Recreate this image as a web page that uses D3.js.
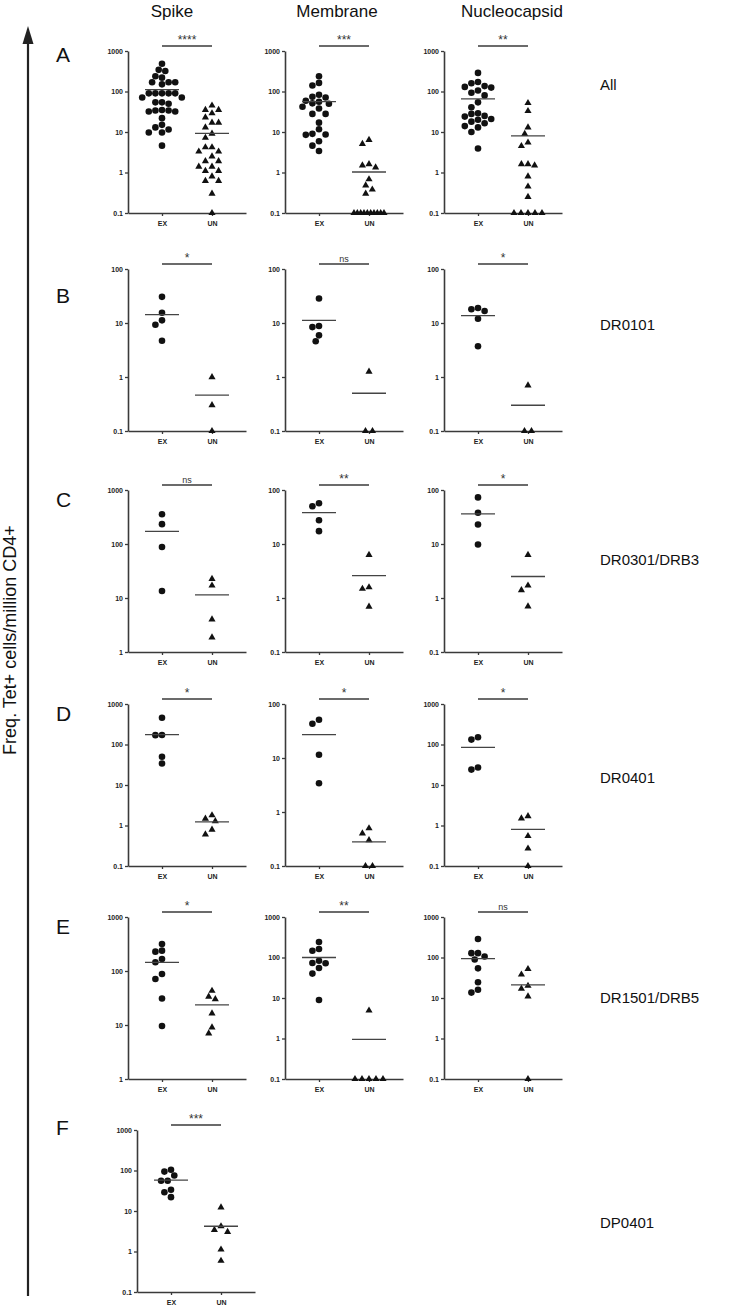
<!DOCTYPE html>
<html><head><meta charset="utf-8">
<script src="https://cdn.jsdelivr.net/npm/d3@7"></script>
<style>body{margin:0;background:#fff}svg{display:block}</style>
</head><body>
<svg id="c" width="732" height="1305"></svg>
<script>
// ---------------- DATA ----------------
const proteins = ["Spike", "Membrane", "Nucleocapsid"];
const groups = ["EX", "UN"];
const panelLetters = ["A", "B", "C", "D", "E", "F"];
const alleles = ["All", "DR0101", "DR0301/DRB3", "DR0401", "DR1501/DRB5", "DP0401"];
const tickValues = [1000, 100, 10, 1, 0.1];
const tickLabels = ["1000", "100", "10", "1", "0.1"];
const yAxisTitle = "Freq. Tet+ cells/million CD4+";

// y-axis [min, max] per row, per protein
const axisRanges = [
  [[0.1, 1000], [0.1, 1000], [0.1, 1000]],
  [[0.1, 100], [0.1, 100], [0.1, 100]],
  [[1, 1000], [0.1, 100], [0.1, 100]],
  [[0.1, 1000], [0.1, 100], [0.1, 1000]],
  [[1, 1000], [0.1, 1000], [0.1, 1000]],
  [[0.1, 1000]]
];

// A: All
const allEX = [
  [483, 342, 320, 238, 220, 169, 169, 169, 150, 90, 90, 90, 90, 90, 71, 71, 54, 54, 50, 35, 34, 34, 32, 32, 22, 15, 13, 11.5, 9.7, 9.7, 4.6],
  [237, 163, 141, 83, 74, 71, 59, 56, 51, 50, 42, 38, 28, 28, 17, 11.7, 9, 8.7, 8.5, 5.9, 4.6, 3.4],
  [288, 172, 160, 136, 130, 125, 106, 93, 80, 54, 41, 29, 28, 25, 24, 21, 20, 18, 16.5, 14, 13, 10, 3.9]
];
const allUN = [
  [45, 35, 35, 29, 23, 17, 17, 13, 9.1, 7.2, 4.2, 4.2, 3.3, 3.3, 2.5, 1.9, 1.9, 1.4, 1.4, 1.1, 1.1, 0.8, 0.62, 0.62, 0.3, 0.1],
  [6.4, 5.1, 1.6, 1.5, 1.33, 0.68, 0.48, 0.38, 0.3, 0.1, 0.1, 0.1, 0.1, 0.1, 0.1, 0.1, 0.1, 0.1, 0.1],
  [52, 33, 13, 9, 5.5, 4.5, 1.6, 1.6, 1.5, 0.8, 0.45, 0.25, 0.1, 0.1, 0.1, 0.1, 0.1]
];
const allMean = [[111, 9.3], [56, 1.03], [66, 8]];
const allSig = ["****", "***", "**"];

// B: DR0101
const dr0101EX = [[30.5, 15.5, 11.2, 9.3, 4.7], [28.4, 8.8, 8.4, 5.9, 4.6], [19, 18, 16.7, 12, 3.7]];
const dr0101UN = [[0.99, 0.3, 0.1], [1.26, 0.1, 0.1], [0.7, 0.1, 0.1]];
const dr0101Mean = [[14.3, 0.46], [11.2, 0.5], [13.7, 0.3]];
const dr0101Sig = ["*", "ns", "*"];

// C: DR0301/DRB3
const dr0301EX = [[356, 233, 88, 13.5], [57, 50, 27.5, 17.3], [73, 38, 23, 9.8]];
const dr0301UN = [[22.5, 17, 4, 1.87], [6.3, 1.58, 1.48, 0.69], [6.3, 1.7, 1.4, 0.7]];
const dr0301Mean = [[171, 11.4], [38, 2.6], [36, 2.5]];
const dr0301Sig = ["ns", "**", "*"];

// D: DR0401
const dr0401EX = [[458, 172, 170, 50, 34], [51, 43, 11.5, 3.4], [151, 132, 27, 24]];
const dr0401UN = [[1.79, 1.48, 1.28, 0.79, 0.6], [0.5, 0.4, 0.3, 0.1, 0.1], [1.7, 1.5, 0.55, 0.27, 0.1]];
const dr0401Mean = [[176, 1.23], [27, 0.28], [85, 0.8]];
const dr0401Sig = ["*", "*", "*"];

// E: DR1501/DRB5
const dr1501EX = [[316, 238, 228, 166, 145, 88, 71, 31, 9.6], [241, 162, 147, 83, 73, 72, 55, 40, 8.9], [286, 128, 128, 106, 89, 54, 24.5, 16, 13.6]];
const dr1501UN = [[43, 33.5, 30, 16.4, 9, 7], [4.9, 0.1, 0.1, 0.1, 0.1, 0.1], [52, 38, 20, 17, 11, 0.1]];
const dr1501Mean = [[144, 23.5], [100, 0.95], [94, 21]];
const dr1501Sig = ["*", "**", "ns"];

// F: DP0401
const dp0401EX = [[104, 94, 75, 56, 56, 33.5, 29, 22]];
const dp0401UN = [[12.3, 4.2, 3.4, 3.05, 1.12, 0.59]];
const dp0401Mean = [[58, 4.2]];
const dp0401Sig = ["***"];

const rowsData = [
  {ex: allEX, un: allUN, mean: allMean, sig: allSig},
  {ex: dr0101EX, un: dr0101UN, mean: dr0101Mean, sig: dr0101Sig},
  {ex: dr0301EX, un: dr0301UN, mean: dr0301Mean, sig: dr0301Sig},
  {ex: dr0401EX, un: dr0401UN, mean: dr0401Mean, sig: dr0401Sig},
  {ex: dr1501EX, un: dr1501UN, mean: dr1501Mean, sig: dr1501Sig},
  {ex: dp0401EX, un: dp0401UN, mean: dp0401Mean, sig: dp0401Sig}
];

// ---------------- LAYOUT ----------------
const FONT = "'Liberation Sans', Arial, Helvetica, sans-serif";
const rowTop = [51, 269, 490, 704, 917, 1130];
const colX = [128, 285, 444];
const lastRowX = 137;
const panelH = 162, panelW = 118;
const letterY = [62, 303, 507, 721, 934, 1135];
const alleleY = [90, 330, 565, 783, 1003, 1228];
const alleleX = 600;
const titleX = [172, 337, 512];
const dotR = 3.3, triSize = 22, markerD = 6.6;
const ink = "#111", axisCol = "#3a3a3a";

const svg = d3.select("#c");

// column titles
svg.selectAll("text.ctitle").data(proteins).join("text")
  .attr("class", "ctitle")
  .attr("x", (d, i) => titleX[i]).attr("y", 17)
  .attr("text-anchor", "middle")
  .style("font-family", FONT).style("font-size", "17px").attr("fill", "#111")
  .text(d => d);

// panel letters
svg.selectAll("text.plet").data(panelLetters).join("text")
  .attr("class", "plet")
  .attr("x", 56).attr("y", (d, i) => letterY[i])
  .style("font-family", FONT).style("font-size", "21px").attr("fill", "#111")
  .text(d => d);

// allele labels
svg.selectAll("text.allele").data(alleles).join("text")
  .attr("class", "allele")
  .attr("x", alleleX).attr("y", (d, i) => alleleY[i])
  .style("font-family", FONT).style("font-size", "15px").attr("fill", "#111")
  .text(d => d);

// big arrow + y title
svg.append("line").attr("x1", 28).attr("x2", 28).attr("y1", 40).attr("y2", 1296)
  .attr("stroke", "#222").attr("stroke-width", 2.2);
svg.append("path").attr("d", "M28,26 L22.5,44 L33.5,44 Z").attr("fill", "#222");
svg.append("text")
  .attr("transform", "translate(16,640) rotate(-90)")
  .attr("text-anchor", "middle")
  .style("font-family", FONT).style("font-size", "18px").attr("fill", "#111")
  .text(yAxisTitle);

function swarm(vals, yScale, cx, floorV) {
  const pts = vals.map(v => ({v, y: yScale(v)})).sort((a, b) => a.y - b.y);
  const floor = pts.filter(p => p.v <= floorV);
  const rest = pts.filter(p => p.v > floorV);
  const placed = [];
  const s = markerD / 2;
  rest.forEach(p => {
    for (let k = 0; k < 60; k++) {
      const off = (k === 0 ? 0 : (k % 2 ? -1 : 1) * Math.ceil(k / 2) * s);
      const ok = placed.every(q => (q.x - (cx + off)) ** 2 + (q.y - p.y) ** 2 >= markerD * markerD * 0.98);
      if (ok) { p.x = cx + off; break; }
    }
    placed.push(p);
  });
  if (floor.length) {
    const n = floor.length;
    const sp = n > 1 ? Math.min(7, 30 / (n - 1)) : 0;
    floor.forEach((p, i) => { p.x = cx + (i - (n - 1) / 2) * sp; placed.push(p); });
  }
  return placed;
}

rowsData.forEach((r, ri) => {
  r.ex.forEach((exVals, ci) => {
    const x0 = ri === 5 ? lastRowX : colX[ci];
    const y0 = rowTop[ri];
    const [lo, hi] = axisRanges[ri][ci];
    const y = d3.scaleLog().domain([lo, hi]).range([y0 + panelH, y0]);
    const x = d3.scalePoint().domain(groups).range([x0, x0 + panelW]).padding(0.68);
    const g = svg.append("g");

    const ticks = tickValues.filter(t => t >= lo && t <= hi);
    const ya = g.append("g").attr("transform", `translate(${x0},0)`)
      .call(d3.axisLeft(y).tickValues(ticks)
        .tickFormat(d => tickLabels[tickValues.indexOf(d)])
        .tickSize(3).tickPadding(2).tickSizeOuter(0));
    const xa = g.append("g").attr("transform", `translate(0,${y0 + panelH})`)
      .call(d3.axisBottom(x).tickSize(3).tickPadding(5).tickSizeOuter(0));
    [ya, xa].forEach(a => {
      a.select(".domain").attr("stroke", axisCol).attr("stroke-width", 1.6);
      a.selectAll(".tick line").attr("stroke", axisCol).attr("stroke-width", 1.3);
      a.selectAll(".tick text").style("font-family", FONT).style("font-size", "7px")
        .style("font-weight", "bold").attr("fill", "#222");
    });

    // points
    const exPts = swarm(exVals, y, x("EX"), lo);
    g.selectAll("circle.ex").data(exPts).join("circle")
      .attr("cx", d => d.x).attr("cy", d => d.y).attr("r", dotR).attr("fill", ink);
    const unPts = swarm(r.un[ci], y, x("UN"), lo);
    g.selectAll("path.un").data(unPts).join("path")
      .attr("transform", d => `translate(${d.x},${d.y})`)
      .attr("d", d3.symbol(d3.symbolTriangle, triSize)()).attr("fill", ink);

    // mean lines
    groups.forEach((gname, gi) => {
      g.append("line")
        .attr("x1", x(gname) - 17).attr("x2", x(gname) + 17)
        .attr("y1", y(r.mean[ci][gi])).attr("y2", y(r.mean[ci][gi]))
        .attr("stroke", "#444").attr("stroke-width", 1.3);
    });

    // significance bar
    g.append("line")
      .attr("x1", x("EX")).attr("x2", x("UN"))
      .attr("y1", y0 - 5).attr("y2", y0 - 5)
      .attr("stroke", axisCol).attr("stroke-width", 1.6);
    const sig = r.sig[ci];
    g.append("text")
      .attr("x", (x("EX") + x("UN")) / 2).attr("y", y0 - 7.5)
      .attr("text-anchor", "middle")
      .style("font-family", FONT).style("font-size", sig === "ns" ? "9px" : "12px")
      .attr("fill", "#333")
      .text(sig);
  });
});
</script>
</body></html>
